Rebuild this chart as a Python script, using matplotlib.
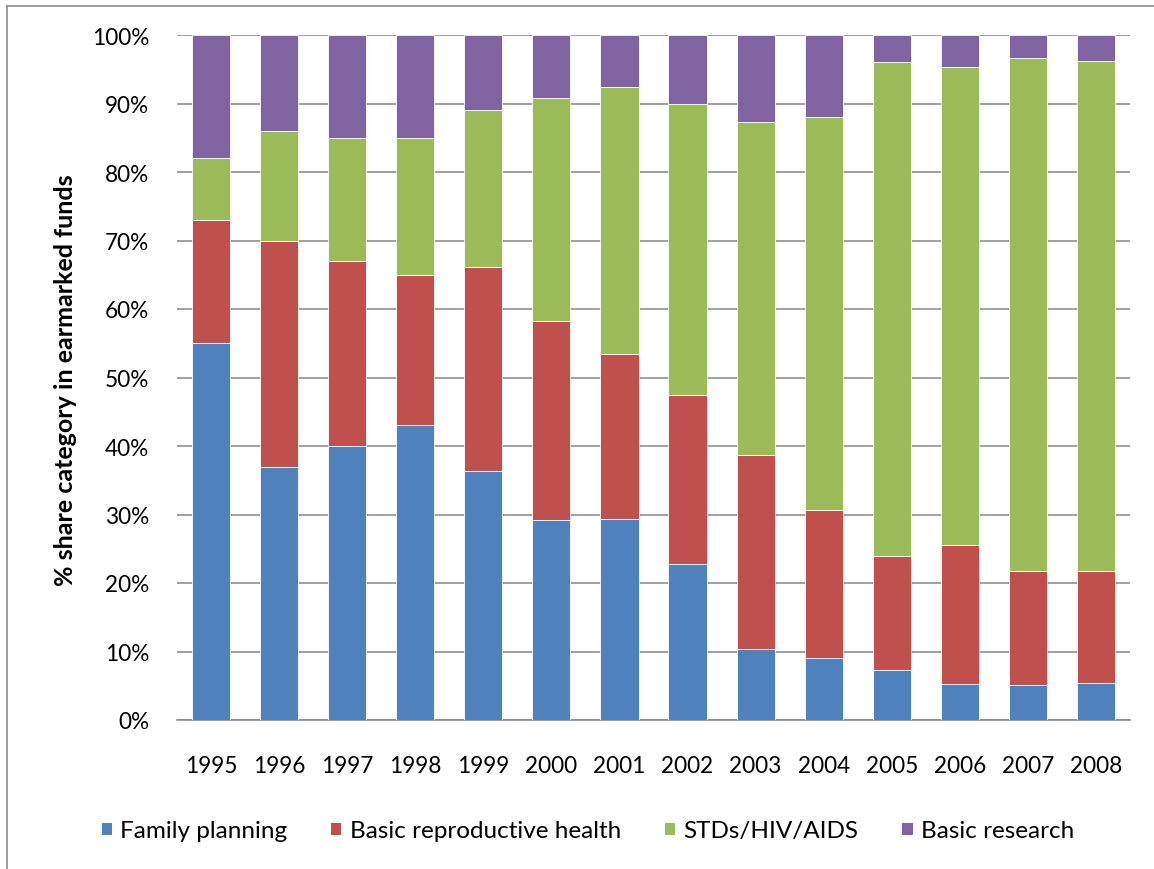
import matplotlib
matplotlib.use("Agg")
import matplotlib.pyplot as plt
from matplotlib.patches import Patch
from matplotlib.lines import Line2D
from matplotlib.ticker import FuncFormatter
import numpy as np

years = ["1995", "1996", "1997", "1998", "1999", "2000", "2001",
         "2002", "2003", "2004", "2005", "2006", "2007", "2008"]
family_planning = [55.0, 37.0, 40.0, 43.0, 36.4, 29.2, 29.4, 22.8, 10.4, 9.1, 7.3, 5.2, 5.1, 5.4]
basic_repro = [18.0, 33.0, 27.0, 22.0, 29.8, 29.1, 24.1, 24.7, 28.3, 21.6, 16.6, 20.3, 16.7, 16.4]
stds_hiv = [9.0, 16.0, 18.0, 20.0, 22.9, 32.5, 38.9, 42.4, 48.6, 57.3, 72.1, 69.8, 74.8, 74.4]
basic_research = [18.0, 14.0, 15.0, 15.0, 10.9, 9.2, 7.6, 10.1, 12.7, 12.0, 4.0, 4.7, 3.4, 3.8]

series_names = ["Family planning", "Basic reproductive health", "STDs/HIV/AIDS", "Basic research"]
series_values = [family_planning, basic_repro, stds_hiv, basic_research]
colors = ["#4F81BD", "#C0504D", "#9BBB59", "#8064A2"]

plt.rcParams['font.family'] = ['Lato', 'DejaVu Sans']

W, H = 1154, 870
fig = plt.figure(figsize=(W / 100, H / 100), dpi=100)
ax = fig.add_axes([177 / W, (H - 721) / H, (1130 - 177) / W, (721 - 36) / H])

x = np.arange(len(years))
bottom = np.zeros(len(years))
for name, vals, c in zip(series_names, series_values, colors):
    v = np.array(vals, dtype=float)
    ax.bar(x, v, bottom=bottom, width=0.56, color=c, edgecolor='white',
           linewidth=0.6, label=name, zorder=3)
    bottom += v

ax.set_xlim(-0.5, len(years) - 0.5)
ax.set_ylim(0, 100)
ax.set_yticks(np.arange(0, 101, 10))
ax.yaxis.set_major_formatter(FuncFormatter(lambda v, p: f"{int(v)}%"))
ax.set_xticks(x)
ax.set_xticklabels(years)
ax.grid(axis='y', color='#868686', linewidth=1.1, zorder=0)
ax.set_axisbelow(True)
for s in ['left', 'right', 'top']:
    ax.spines[s].set_visible(False)
ax.spines['bottom'].set_color('#868686')
ax.spines['bottom'].set_linewidth(1.1)
ax.tick_params(axis='both', length=0, labelsize=16.3, colors='black')
ax.tick_params(axis='x', pad=25)
ax.tick_params(axis='y', pad=20)

fig.text(66 / W, 1 - 380 / H, "% share category in earmarked funds", rotation=90,
         ha='center', va='center', fontsize=18, fontweight='bold')

handles = [Patch(facecolor=c, edgecolor='none') for c in colors]
fig.legend(handles, series_names, loc='center', bbox_to_anchor=(588 / W, 1 - 832 / H),
           ncol=4, frameon=False, fontsize=17.5, handlelength=0.42, handleheight=0.42,
           handletextpad=0.35, columnspacing=1.8)

# chart border (left and top visible)
fig.add_artist(Line2D([6.5 / W, 6.5 / W], [0, 1 - 6.5 / H], transform=fig.transFigure,
                      color='#8c8c8c', linewidth=1.2))
fig.add_artist(Line2D([6.5 / W, 1], [1 - 6.5 / H, 1 - 6.5 / H], transform=fig.transFigure,
                      color='#8c8c8c', linewidth=1.2))

fig.savefig("out.png", dpi=100)
